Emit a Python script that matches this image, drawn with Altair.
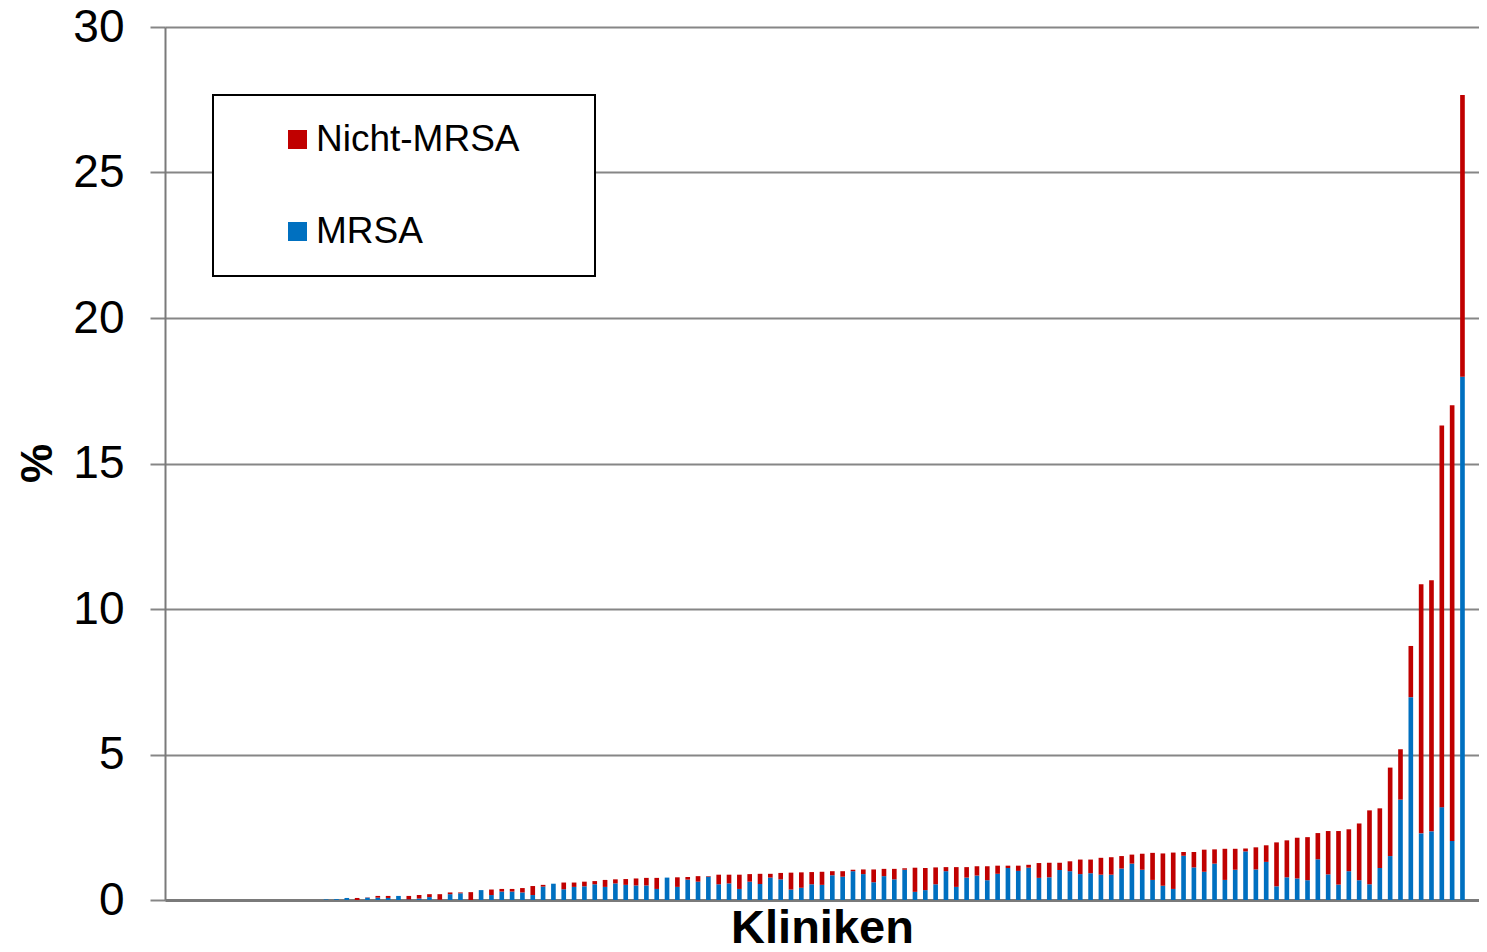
import altair as alt
import pandas as pd

# Anteil (%) je Klinik: MRSA und Nicht-MRSA, sortiert nach Gesamtwert
mrsa = [0] * 15 + [
    0.02, 0.03, 0.07, 0.00, 0.08, 0.08, 0.07, 0.14, 0.02, 0.05,
    0.10, 0.01, 0.20, 0.23, 0.00, 0.34, 0.17, 0.29, 0.29, 0.26,
    0.17, 0.46, 0.56, 0.37, 0.45, 0.47, 0.54, 0.45, 0.57, 0.52,
    0.50, 0.50, 0.38, 0.77, 0.45, 0.70, 0.63, 0.80, 0.54, 0.57,
    0.38, 0.63, 0.55, 0.77, 0.71, 0.36, 0.42, 0.54, 0.52, 0.85,
    0.80, 0.99, 0.89, 0.61, 0.82, 0.71, 1.04, 0.28, 0.34, 0.54,
    0.99, 0.45, 0.77, 0.84, 0.68, 0.90, 1.10, 1.00, 1.11, 0.76,
    0.78, 1.03, 0.99, 0.89, 0.92, 0.87, 0.87, 1.08, 1.25, 1.04,
    0.69, 0.49, 0.38, 1.52, 1.12, 0.97, 1.25, 0.69, 1.04, 1.67,
    1.05, 1.31, 0.47, 0.78, 0.74, 0.68, 1.40, 0.88, 0.53, 0.99,
    0.68, 0.54, 1.10, 1.51, 3.45, 6.97, 2.29, 2.36, 3.19, 2.03,
    17.98,
]
nicht_mrsa = [0] * 15 + [
    0.00, 0.00, 0.00, 0.07, 0.01, 0.06, 0.07, 0.00, 0.12, 0.12,
    0.10, 0.19, 0.06, 0.03, 0.27, 0.00, 0.19, 0.09, 0.09, 0.15,
    0.31, 0.06, 0.00, 0.23, 0.15, 0.16, 0.11, 0.24, 0.14, 0.20,
    0.24, 0.26, 0.38, 0.00, 0.33, 0.09, 0.19, 0.02, 0.33, 0.30,
    0.49, 0.26, 0.35, 0.13, 0.22, 0.58, 0.53, 0.42, 0.45, 0.14,
    0.19, 0.05, 0.16, 0.44, 0.25, 0.36, 0.05, 0.83, 0.76, 0.58,
    0.14, 0.68, 0.36, 0.32, 0.48, 0.28, 0.08, 0.18, 0.10, 0.51,
    0.50, 0.25, 0.34, 0.50, 0.47, 0.58, 0.60, 0.43, 0.31, 0.55,
    0.93, 1.11, 1.25, 0.13, 0.53, 0.76, 0.49, 1.07, 0.72, 0.10,
    0.76, 0.57, 1.51, 1.27, 1.40, 1.48, 0.90, 1.49, 1.84, 1.44,
    1.95, 2.54, 2.05, 3.04, 1.73, 1.76, 8.56, 8.63, 13.12, 14.97,
    9.68,
]
n_slots = 127
clinics = [str(i) for i in range(1, n_slots + 1)]
series = ["Nicht-MRSA", "MRSA"]
colors = ["#C00000", "#0070C0"]
y_ticks = [0, 5, 10, 15, 20, 25, 30]

rows = []
for i, (m, nm) in enumerate(zip(mrsa, nicht_mrsa)):
    rows.append({"Klinik": clinics[i], "Typ": "MRSA", "Wert": m, "ord": 0})
    rows.append({"Klinik": clinics[i], "Typ": "Nicht-MRSA", "Wert": nm, "ord": 1})
df = pd.DataFrame(rows)

FONT = "Liberation Sans"
pad_tail = "\u00a0" * 4 + "\u2009" + "\u200b"

chart = alt.Chart(df).mark_bar().encode(
    x=alt.X("Klinik:N",
            scale=alt.Scale(domain=clinics, paddingInner=0.55, paddingOuter=0.375),
            axis=alt.Axis(title="Kliniken", labels=False, ticks=False,
                          domainColor="#7a7a7a", domainWidth=3,
                          titleFont=FONT, titleFontSize=47, titleFontWeight="bold",
                          titleColor="black", titleY=42, titleBaseline="alphabetic")),
    y=alt.Y("Wert:Q", stack="zero",
            scale=alt.Scale(domain=[0, 30], nice=False),
            axis=alt.Axis(title="%", values=y_ticks, grid=True,
                          gridColor="#868686", gridWidth=2,
                          domainColor="#7a7a7a", domainWidth=2,
                          tickColor="#868686", tickWidth=2, tickSize=15,
                          labelFont=FONT, labelFontSize=46, labelColor="black",
                          labelPadding=26,
                          titleFont=FONT, titleFontSize=44, titleFontWeight="bold",
                          titleColor="black", titleAngle=-90, titleX=-127, titleY=436,
                          titleAlign="center", titleBaseline="middle")),
    color=alt.Color("Typ:N",
                    scale=alt.Scale(domain=series, range=colors),
                    legend=alt.Legend(title=None, orient="none", legendX=48, legendY=68,
                                      symbolType="square", symbolSize=361,
                                      symbolStrokeWidth=0, symbolOffset=40,
                                      labelFont=FONT, labelFontSize=37,
                                      labelColor="black", labelOffset=0,
                                      labelLimit=600,
                                      labelExpr=f"datum.label + '{pad_tail}'",
                                      rowPadding=54, padding=26,
                                      strokeColor="black", fillColor="white")),
    order=alt.Order("ord:Q"),
).properties(
    width=1314,
    height=873,
    padding={"left": 157, "top": 19, "right": 0, "bottom": 44},
    autosize=alt.AutoSizeParams(type="none"),
).configure_view(stroke=None).configure_legend(strokeWidth=2)

chart.save("out.html", embed_options={"renderer": "svg", "actions": False})
